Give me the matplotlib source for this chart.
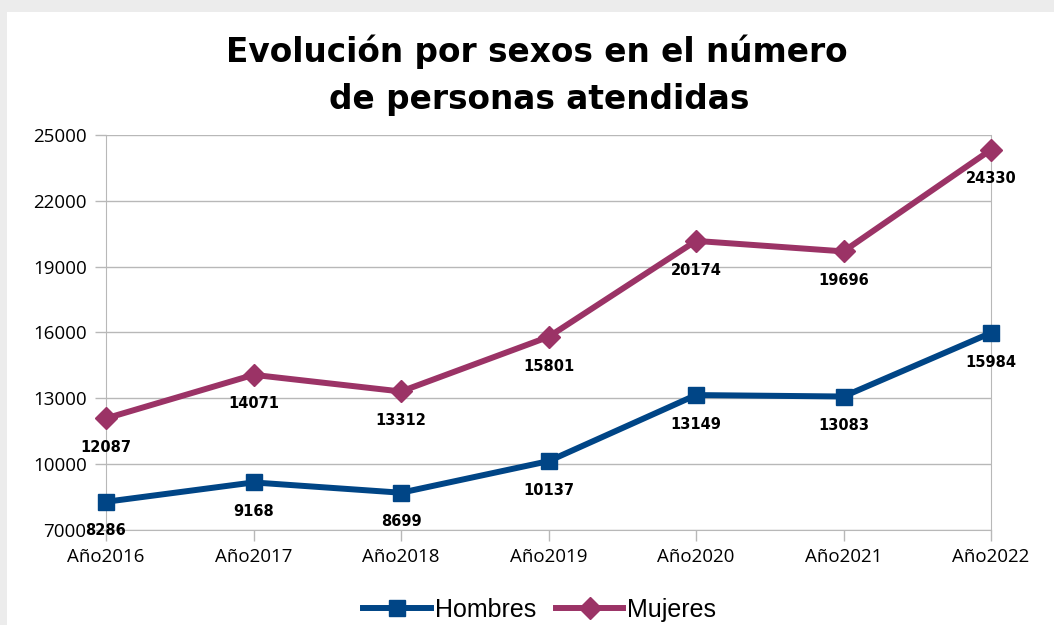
import matplotlib.pyplot as plt
from matplotlib.patches import Rectangle

# Datos
years = ["Año2016", "Año2017", "Año2018", "Año2019", "Año2020", "Año2021", "Año2022"]
hombres = [8286, 9168, 8699, 10137, 13149, 13083, 15984]
mujeres = [12087, 14071, 13312, 15801, 20174, 19696, 24330]
yticks = [7000, 10000, 13000, 16000, 19000, 22000, 25000]

blue = "#004586"
purple = "#9b3366"
grid = "#b8b8b8"

plt.rcParams['font.family'] = ['Open Sans', 'DejaVu Sans']

fig = plt.figure(figsize=(10.54, 6.25), dpi=100)
fig.patch.set_facecolor("#ececec")
fig.patches.append(Rectangle((7 / 1054, 0), 1, 1 - 12 / 625, transform=fig.transFigure,
                             facecolor="white", edgecolor="none", zorder=-5))

ax = fig.add_axes([106 / 1054, 1 - 530 / 625, (991 - 106) / 1054, (530 - 135) / 625])
ax.set_facecolor("none")
ax.set_zorder(2)

x = list(range(len(years)))
ax.plot(x, hombres, color=blue, lw=4.3, marker="s", markersize=11.5, label="Hombres", zorder=3,
        clip_on=False)
ax.plot(x, mujeres, color=purple, lw=4.3, marker="D", markersize=11, label="Mujeres", zorder=3,
        clip_on=False)

for xi, v in zip(x, hombres):
    ax.annotate(str(v), (xi, v), xytext=(0, -21), textcoords="offset points",
                ha="center", va="center", fontsize=10.5, fontweight="bold",
                family=["DejaVu Sans"], zorder=4)
for xi, v in zip(x, mujeres):
    ax.annotate(str(v), (xi, v), xytext=(0, -21), textcoords="offset points",
                ha="center", va="center", fontsize=10.5, fontweight="bold",
                family=["DejaVu Sans"], zorder=4)

ax.set_xlim(0, len(years) - 1)
ax.set_ylim(7000, 25000)
ax.set_xticks(x)
ax.set_xticklabels(years)
ax.set_yticks(yticks)
ax.tick_params(axis="both", colors=grid, labelcolor="black", labelsize=13.5, length=8, width=1)
ax.tick_params(axis="x", pad=5)
ax.tick_params(axis="y", pad=6)

ax.grid(axis="y", color=grid, lw=1)
for s in ["top"]:
    ax.spines[s].set_visible(False)
for s in ["left", "right", "bottom"]:
    ax.spines[s].set_color(grid)

fig.text(0.509, 1 - 52 / 625, "Evolución por sexos en el número", ha="center", va="center",
         fontsize=23.6, fontweight="heavy", family=["DejaVu Sans"])
fig.text(0.512, 1 - 100 / 625, "de personas atendidas", ha="center", va="center",
         fontsize=23.6, fontweight="heavy", family=["DejaVu Sans"])

fig.legend(loc="center", bbox_to_anchor=(0.512, 1 - 610 / 625), ncol=2, frameon=False,
           handlelength=2.7, columnspacing=0.8, handletextpad=0.15,
           prop={"family": ["Liberation Sans"], "size": 18})

fig.savefig("out.png", dpi=100)
